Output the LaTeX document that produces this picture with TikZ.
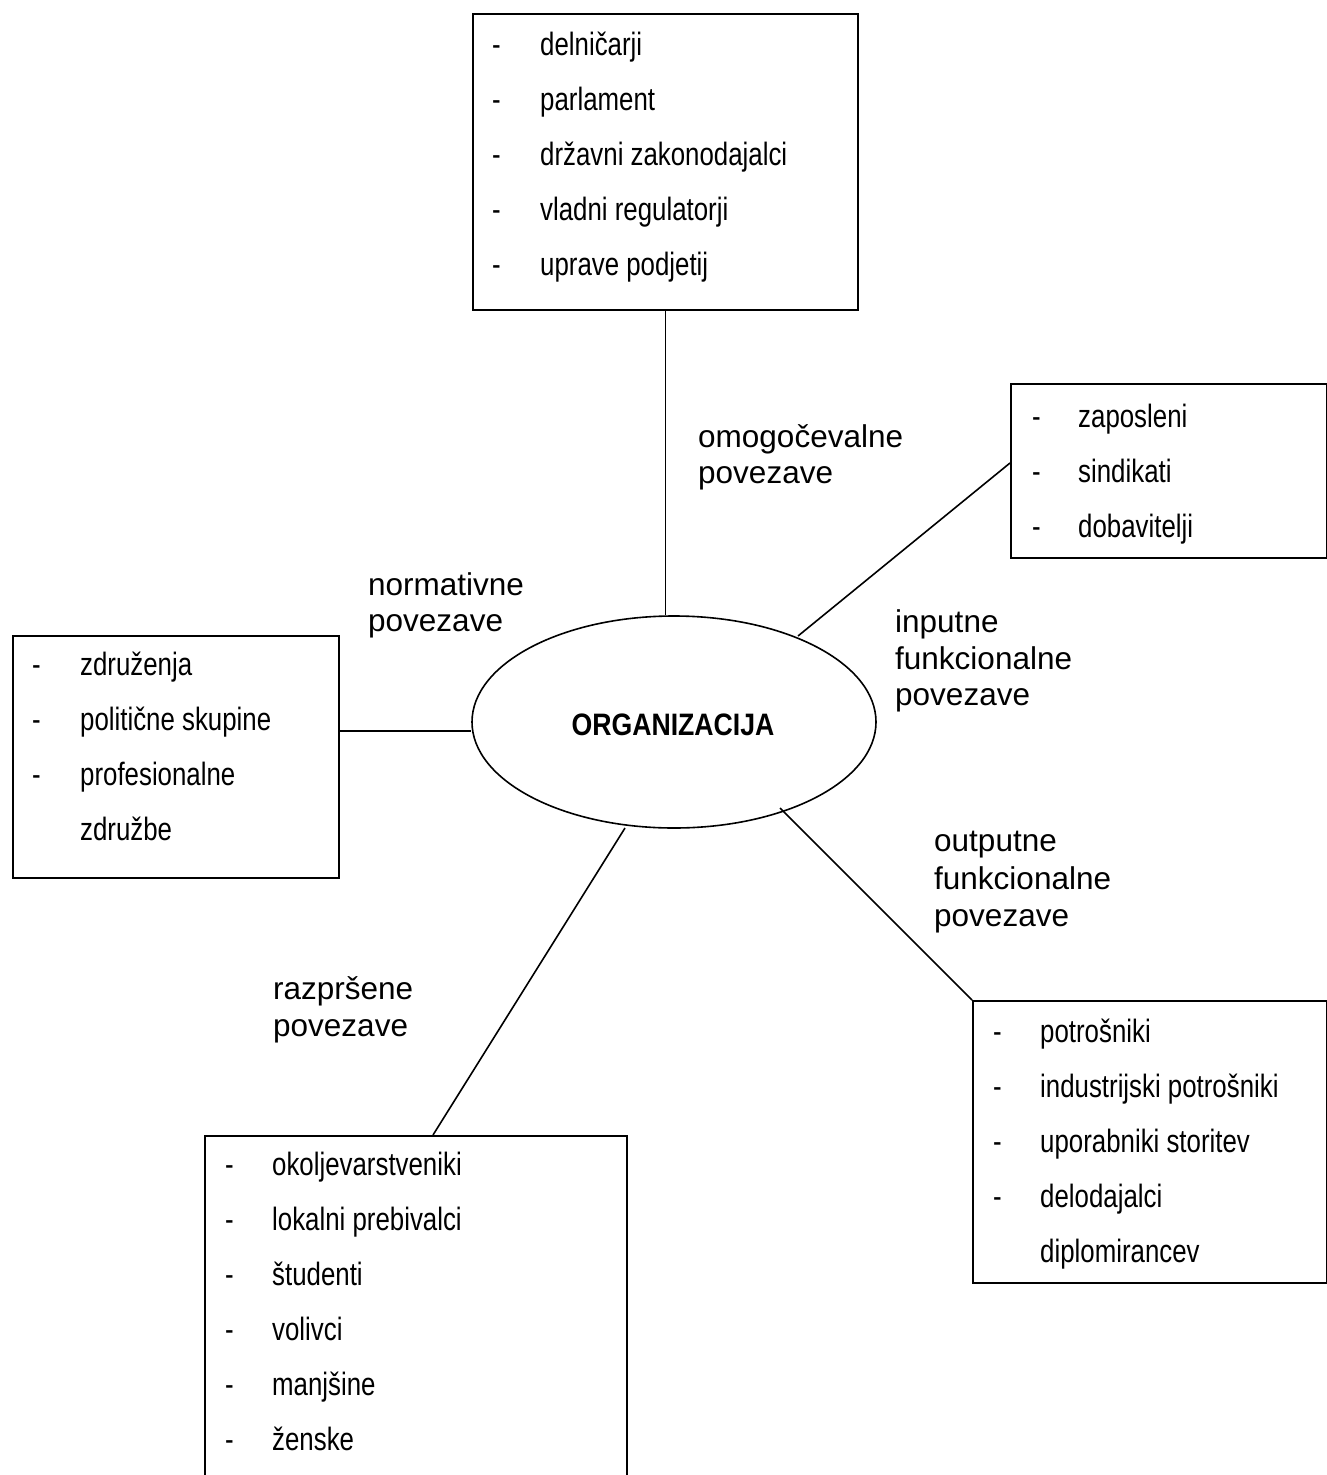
\documentclass[tikz,border=0pt]{standalone}
\usepackage{fontspec}
\setmainfont{Liberation Sans}
\newfontfamily\narrowfont[FakeStretch=0.80]{Liberation Sans}
\newfontfamily\orgfont[FakeStretch=0.86]{Liberation Sans}
\usetikzlibrary{calc,shapes.geometric}
\begin{document}
\begin{tikzpicture}[x=1pt,y=-1pt,
  boxs/.style={draw, line width=1.6pt, inner sep=0pt, anchor=north west},
  conn/.style={line width=1.6pt},
  item/.style={inner sep=0pt, anchor=base west, font=\narrowfont\fontsize{32.3}{35}\selectfont},
  lab/.style={inner sep=0pt, anchor=base west, font=\fontsize{31.5}{35}\selectfont},
]
\useasboundingbox (0,0) rectangle (1327,1475);
\clip (0,0) rectangle (1327,1475);

% boxes
\node[boxs, minimum width=385pt, minimum height=296pt] (top) at (472,13) {};
\node[boxs, minimum width=316pt, minimum height=174pt] (rt) at (1010,383) {};
\node[boxs, minimum width=326pt, minimum height=242pt] (lf) at (12,635) {};
\node[boxs, minimum width=354pt, minimum height=282pt] (rb) at (972,1000) {};
\node[boxs, minimum width=422pt, minimum height=400pt] (bt) at (204,1135) {};

% central ellipse
\node[draw, ellipse, line width=1.6pt, inner sep=0pt, minimum width=404pt, minimum height=212pt] (org) at (674,722) {};
\node[inner sep=0pt, font=\orgfont\bfseries\fontsize{31}{34}\selectfont] (orgt) at (673,725) {ORGANIZACIJA};

% top box items
\foreach \t [count=\i] in {delničarji, parlament, državni zakonodajalci, vladni regulatorji, uprave podjetij} {
  \node[item] (td\i) at (492,{55*\i}) {-};
  \node[item] (tt\i) at (540,{55*\i}) {\t};
}
% right-top box items
\foreach \t [count=\i] in {zaposleni, sindikati, dobavitelji} {
  \node[item] (rd\i) at (1032,{372+55*\i}) {-};
  \node[item] (rtx\i) at (1078,{372+55*\i}) {\t};
}
% left box items
\foreach \t [count=\i] in {združenja, politične skupine, profesionalne} {
  \node[item] (ld\i) at (32,{620+55*\i}) {-};
  \node[item] (lt\i) at (80,{620+55*\i}) {\t};
}
\node[item] (lt4) at (80,840) {združbe};
% right-bottom box items
\foreach \t [count=\i] in {potrošniki, industrijski potrošniki, uporabniki storitev, delodajalci} {
  \node[item] (bd\i) at (993,{987+55*\i}) {-};
  \node[item] (bx\i) at (1040,{987+55*\i}) {\t};
}
\node[item] (bx5) at (1040,1262) {diplomirancev};
% bottom box items
\foreach \t [count=\i] in {okoljevarstveniki, lokalni prebivalci, študenti, volivci, manjšine, ženske} {
  \node[item] (od\i) at (225,{1120+55*\i}) {-};
  \node[item] (ot\i) at (272,{1120+55*\i}) {\t};
}

% labels
\node[lab] (l1a) at (698,447) {omogočevalne};
\node[lab] (l1b) at (698,483) {povezave};
\node[lab] (l2a) at (368,595) {normativne};
\node[lab] (l2b) at (368,631) {povezave};
\node[lab] (l3a) at (895,632) {inputne};
\node[lab] (l3b) at (895,669) {funkcionalne};
\node[lab] (l3c) at (895,705) {povezave};
\node[lab] (l4a) at (934,851) {outputne};
\node[lab] (l4b) at (934,889) {funkcionalne};
\node[lab] (l4c) at (934,926) {povezave};
\node[lab] (l5a) at (273,999) {razpršene};
\node[lab] (l5b) at (273,1036) {povezave};

% connectors
\draw[conn] (top.south) -- (top.south |- org.north);
\coordinate (e2) at (798,636);
\coordinate (r2) at ($(rt.north west)+(0,80)$);
\draw[conn] (e2) -- (r2);
\coordinate (l3) at ($(lf.north east)+(0,96)$);
\draw[conn] (l3) -- (org.west |- l3);
\coordinate (e3) at (780,808);
\draw[conn] (e3) -- (rb.north west);
\coordinate (e4) at (625,828);
\coordinate (b4) at ($(bt.north west)+(229,0)$);
\draw[conn] (e4) -- (b4);
\end{tikzpicture}
\end{document}
